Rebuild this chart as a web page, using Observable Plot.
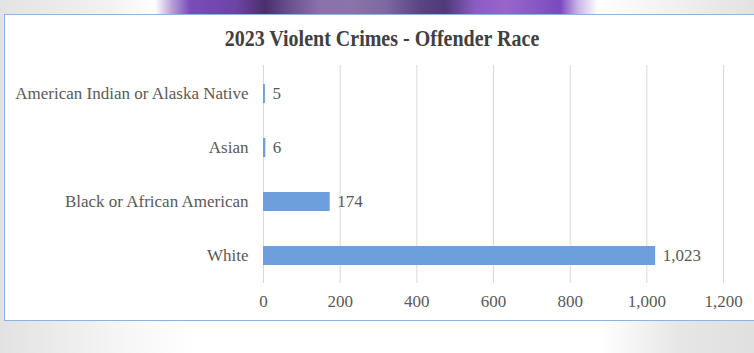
<!DOCTYPE html>
<html>
<head>
<meta charset="utf-8">
<script src="https://cdn.jsdelivr.net/npm/d3@7"></script>
<script src="https://cdn.jsdelivr.net/npm/@observablehq/plot@0.6"></script>
<style>
  html, body { margin: 0; padding: 0; }
  body { width: 754px; height: 353px; position: relative; overflow: hidden;
         background: linear-gradient(90deg, #e2e2e2 0px, #f7f7f7 130px, #ffffff 200px, #ffffff 600px, #e6e6e6 680px, #e0e0e0 754px); }
  #topband { position: absolute; left: 0; top: 0; width: 754px; height: 14px;
    background: linear-gradient(90deg, #e3e3e3 0px, #f2f2f2 110px, #ffffff 155px, #b8a0d8 172px, #7a4cb8 190px, #6e44a8 235px, #4a2f6e 265px, #6a5290 290px, #8c72ac 320px, #8a74a8 350px, #7d6aa0 385px, #5a4484 420px, #4f3a78 445px, #8a5cc4 475px, #9a64cc 505px, #8a58c4 535px, #7a48c0 560px, #c9b5e8 578px, #ffffff 598px, #f3f3f3 660px, #e2e2e2 754px); }
  #box { position: absolute; left: 4px; top: 14px; width: 760px; height: 305px;
         background: #ffffff; border: 1px solid #8db3e2; }
  #title { position: absolute; left: 0; top: 27px; width: 764px; text-align: center;
           font-family: "Liberation Serif", "Times New Roman", serif; font-weight: bold;
           font-size: 20px; color: #404040; transform: scaleY(1.12); }
  #chart { position: absolute; left: 0; top: 0; }
</style>
</head>
<body>
<div id="topband"></div>
<div id="box"></div>
<div id="title">2023 Violent Crimes - Offender Race</div>
<div id="chart"></div>
<script>
const categories = ["American Indian or Alaska Native", "Asian", "Black or African American", "White"];
const values = [5, 6, 174, 1023];
const xTicks = [0, 200, 400, 600, 800, 1000, 1200];

const data = categories.map((c, i) => ({category: c, value: values[i]}));
const fmt = d3.format(",");

const plot = Plot.plot({
  width: 754,
  height: 320,
  marginLeft: 263,
  marginRight: 31,
  marginTop: 65,
  marginBottom: 37,
  style: {fontFamily: "'Liberation Serif', 'Times New Roman', serif", fontSize: "17px", color: "#595959", background: "transparent"},
  x: {domain: [0, 1200], ticks: xTicks, tickFormat: fmt, label: null, grid: false},
  y: {domain: categories, paddingInner: 0.65, paddingOuter: 0.325, label: null},
  marks: [
    Plot.ruleX(xTicks, {stroke: "#d9d9d9", strokeWidth: 1}),
    Plot.barX(data, {x: "value", y: "category", fill: "#6d9fdc"}),
    Plot.text(data, {x: "value", y: "category", text: d => fmt(d.value), textAnchor: "start", dx: 7, fill: "#595959", fontSize: 17}),
    Plot.axisX({ticks: xTicks, tickFormat: fmt, tickSize: 0, tickPadding: 11, label: null, fill: "#595959", fontSize: 17}),
    Plot.axisY({tickSize: 0, tickPadding: 15, label: null, fill: "#595959", fontSize: 17})
  ]
});
document.getElementById("chart").appendChild(plot);
</script>
</body>
</html>
